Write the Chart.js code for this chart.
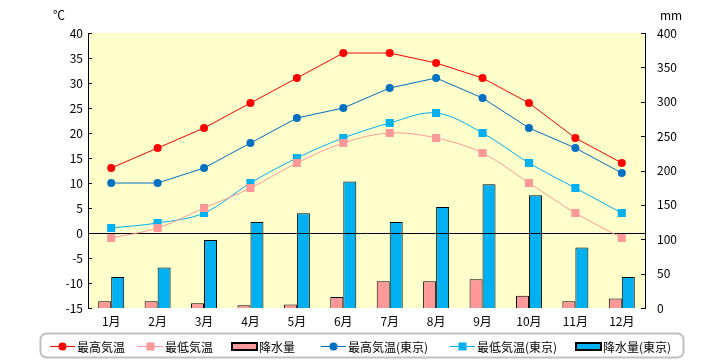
<!DOCTYPE html>
<html><head><meta charset="utf-8">
<script src="https://cdn.jsdelivr.net/npm/chart.js@4/dist/chart.umd.min.js"></script>
<style>html,body{margin:0;padding:0;background:#fff;}canvas{display:block;}</style>
</head><body>
<canvas id="c" width="720" height="360"></canvas>
<script>
const months = ['1月','2月','3月','4月','5月','6月','7月','8月','9月','10月','11月','12月'];
const maxTemp = [13,17,21,26,31,36,36,34,31,26,19,14];
const minTemp = [-1,1,5,9,14,18,20,19,16,10,4,-1];
const rain = [10,10,7,4,5,16,39,39,42,18,10,14];
const maxTempTokyo = [10,10,13,18,23,25,29,31,27,21,17,12];
const minTempTokyo = [1,2,4,10,15,19,22,24,20,14,9,4];
const rainTokyo = [45,59,99,125,138,184,125,147,180,164,88,45];
const legendLabels = ['最高気温','最低気温','降水量','最高気温(東京)','最低気温(東京)','降水量(東京)'];
const tempUnit = '℃';
const rainUnit = 'mm';

const FONT = '"Noto Sans CJK JP", "Noto Sans", sans-serif';
Chart.defaults.font.family = FONT;
Chart.defaults.font.size = 12;
Chart.defaults.color = '#000';

const RED='#FF0000', PINK='#FF9999', DBLUE='#0070C0', LBLUE='#00B0F0';

const decor = {
  id:'decor',
  beforeDraw(chart){
    const {ctx, chartArea:a} = chart;
    ctx.save();
    ctx.fillStyle = '#FFFFCC';
    ctx.fillRect(a.left, a.top, a.right-a.left, a.bottom-a.top);
    ctx.restore();
  },
  beforeDatasetsDraw(chart){ chart.$zeroDone = false; },
  beforeDatasetDraw(chart, args){
    if (!chart.$zeroDone && args.meta.type === 'line') {
      chart.$zeroDone = true;
      const {ctx, chartArea:a} = chart;
      const y = Math.round(chart.scales.y.getPixelForValue(0)) + 0.5;
      ctx.save();
      ctx.strokeStyle = '#000'; ctx.lineWidth = 1;
      ctx.beginPath(); ctx.moveTo(a.left, y); ctx.lineTo(a.right, y); ctx.stroke();
      ctx.restore();
    }
  },
  afterDraw(chart){
    const {ctx, chartArea:a} = chart;
    ctx.save();
    // inward tick marks
    ctx.strokeStyle = '#000'; ctx.lineWidth = 1;
    const ys = chart.scales.y, y2 = chart.scales.y2;
    ys.ticks.forEach(t => {
      const p = Math.round(ys.getPixelForValue(t.value)) + 0.5;
      ctx.beginPath(); ctx.moveTo(a.left, p); ctx.lineTo(a.left+4, p); ctx.stroke();
    });
    y2.ticks.forEach(t => {
      const p = Math.round(y2.getPixelForValue(t.value)) + 0.5;
      ctx.beginPath(); ctx.moveTo(a.right-4, p); ctx.lineTo(a.right, p); ctx.stroke();
    });
    // unit labels
    ctx.fillStyle = '#000';
    ctx.font = '12px ' + FONT;
    ctx.textBaseline = 'middle';
    ctx.textAlign = 'center';
    ctx.fillText(tempUnit, 59, 15);
    ctx.fillText(rainUnit, 671, 15);
    // legend box
    const bx=40.5, by=333.5, bw=643, bh=24, r=6;
    ctx.strokeStyle = '#C0C0C0'; ctx.lineWidth = 2;
    ctx.beginPath();
    ctx.moveTo(bx+r, by); ctx.lineTo(bx+bw-r, by); ctx.arcTo(bx+bw, by, bx+bw, by+r, r);
    ctx.lineTo(bx+bw, by+bh-r); ctx.arcTo(bx+bw, by+bh, bx+bw-r, by+bh, r);
    ctx.lineTo(bx+r, by+bh); ctx.arcTo(bx, by+bh, bx, by+bh-r, r);
    ctx.lineTo(bx, by+r); ctx.arcTo(bx, by, bx+r, by, r);
    ctx.closePath(); ctx.stroke();
    // legend items
    const xs = [50, 138, 232, 321, 450, 576];
    const ly = 346;
    chart.data.datasets.forEach((ds, i) => {
      const x = xs[i];
      if (ds.type === 'line') {
        ctx.strokeStyle = ds.borderColor; ctx.lineWidth = 1;
        ctx.beginPath(); ctx.moveTo(x, ly+0.5); ctx.lineTo(x+25, ly+0.5); ctx.stroke();
        ctx.fillStyle = ds.pointBackgroundColor;
        if (ds.pointStyle === 'rect') {
          ctx.fillRect(x+12.5-4, ly-3.5, 8, 8);
        } else {
          ctx.beginPath(); ctx.arc(x+12.5, ly+0.5, 4, 0, Math.PI*2); ctx.fill();
        }
      } else {
        ctx.fillStyle = ds.backgroundColor;
        ctx.fillRect(x, ly-3, 25, 7);
        ctx.strokeStyle = '#000'; ctx.lineWidth = 2;
        ctx.strokeRect(x, ly-3, 25, 7);
      }
      ctx.fillStyle = '#000';
      ctx.textAlign = 'left';
      ctx.fillText(ds.label, x+27, ly+1);
    });
    ctx.restore();
  }
};

function lineDs(label, data, color, style, tension){
  return {type:'line', label, data, yAxisID:'y', borderColor:color, backgroundColor:color,
    pointBackgroundColor:color, pointBorderColor:color, pointBorderWidth:0,
    pointStyle:style, pointRadius: style==='rect'?5.7:4, borderWidth:1, tension, order:0, fill:false};
}
function barDs(label, data, color){
  return {type:'bar', label, data, yAxisID:'y2', backgroundColor:color, borderColor:'#000',
    borderWidth:1, categoryPercentage:0.56, barPercentage:1.0, order:1};
}

new Chart(document.getElementById('c'), {
  data: {
    labels: months,
    datasets: [
      lineDs(legendLabels[0], maxTemp, RED, 'circle', 0),
      lineDs(legendLabels[1], minTemp, PINK, 'rect', 0.35),
      barDs(legendLabels[2], rain, PINK),
      lineDs(legendLabels[3], maxTempTokyo, DBLUE, 'circle', 0),
      lineDs(legendLabels[4], minTempTokyo, LBLUE, 'rect', 0.35),
      barDs(legendLabels[5], rainTokyo, LBLUE)
    ]
  },
  options: {
    responsive:false, animation:false,
    layout:{padding:{left:0, right:0, top:33, bottom:30}},
    plugins:{legend:{display:false}, tooltip:{enabled:false}},
    scales:{
      x:{grid:{display:false, drawTicks:false}, border:{display:false},
         ticks:{padding:6}, afterFit(s){ s.height = 22; }},
      y:{position:'left', min:-15, max:40, ticks:{stepSize:5, padding:5},
         grid:{display:false, drawTicks:false}, border:{display:true, color:'#000', width:1},
         afterFit(s){ s.width = 88; }},
      y2:{position:'right', min:0, max:400, ticks:{stepSize:50, padding:12},
         grid:{display:false, drawTicks:false}, border:{display:true, color:'#000', width:1},
         afterFit(s){ s.width = 75; }}
    }
  },
  plugins:[decor]
});
</script>
</body></html>
